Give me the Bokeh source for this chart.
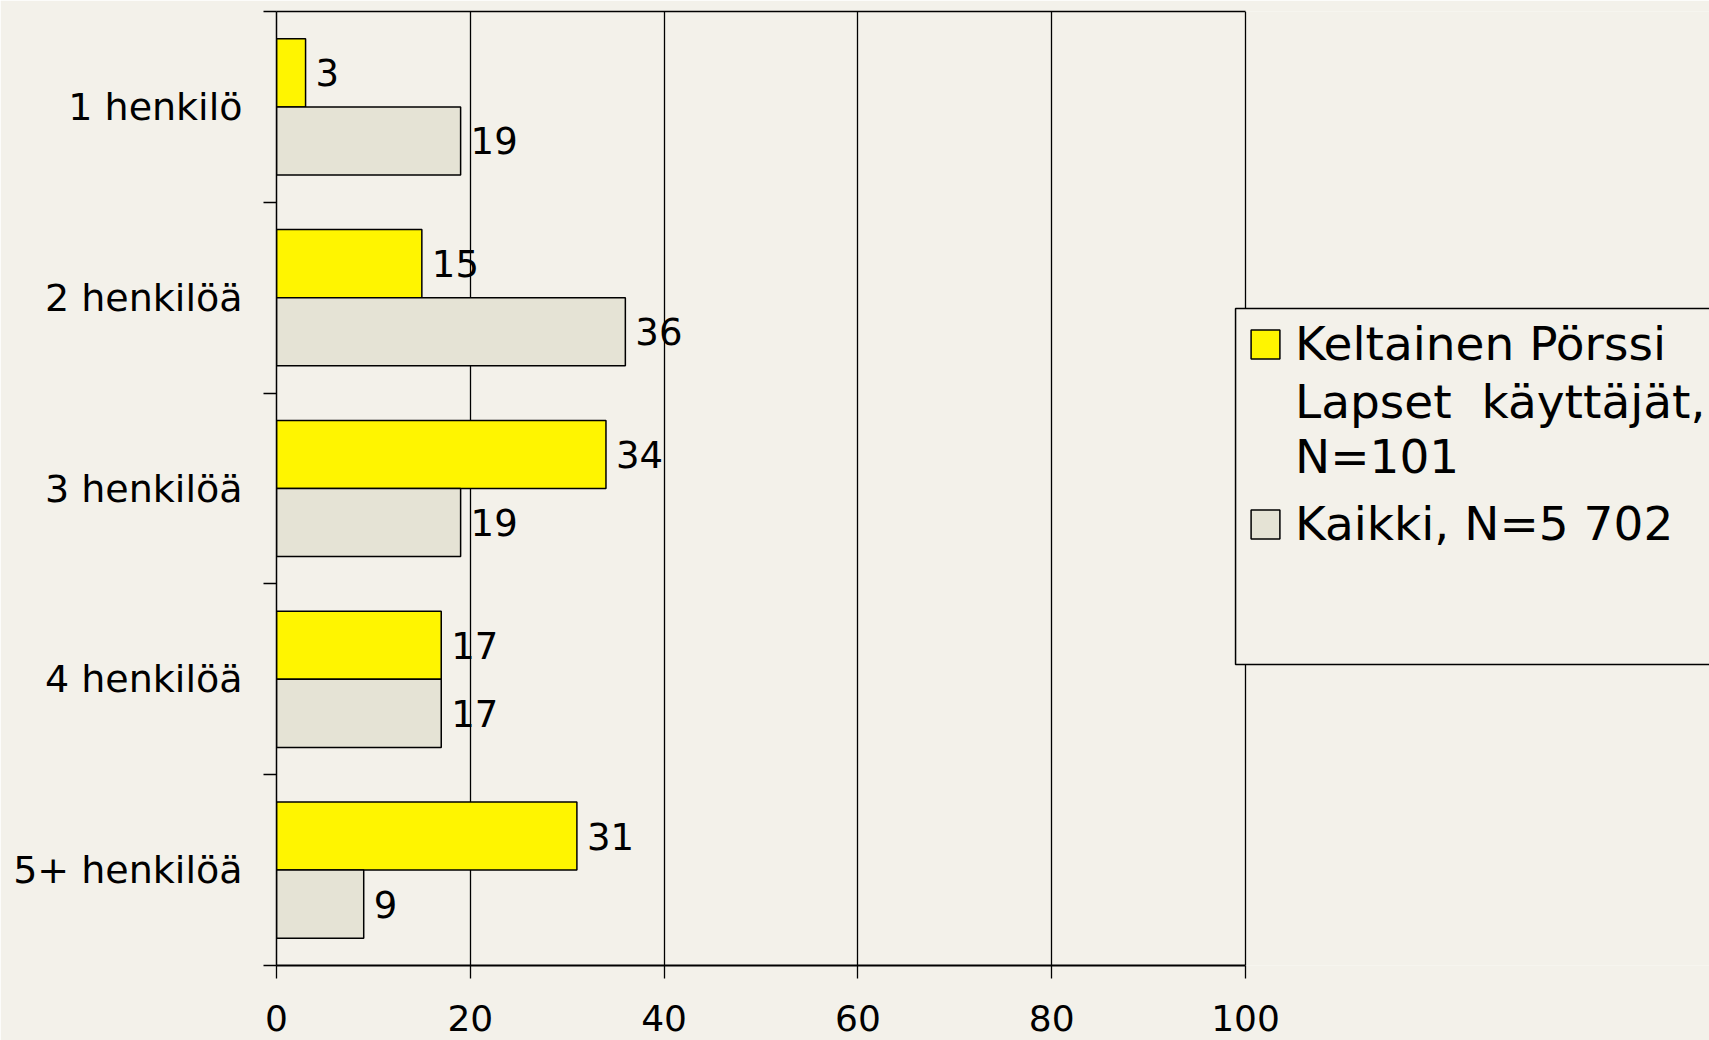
from bokeh.plotting import figure
from bokeh.models import (ColumnDataSource, FixedTicker, Range1d, LinearAxis,
                          Legend, LegendItem, BoxAnnotation)
from bokeh.embed import file_html
from bokeh.resources import INLINE
from bokeh.core.properties import value

categories = ["1 henkilö", "2 henkilöä", "3 henkilöä", "4 henkilöä", "5+ henkilöä"]
keltainen = [3, 15, 34, 17, 31]
kaikki = [19, 36, 19, 17, 9]
x_ticks = [0, 20, 40, 60, 80, 100]
series_1_lines = ["Keltainen Pörssi", "Lapset  käyttäjät,\nN=101"]
series_2_name = "Kaikki, N=5 702"

BG = "#F3F1EA"
YELLOW = "#FFF500"
GREY = "#E5E3D5"
FONT = "DejaVu Sans"

n = len(categories)
centers = [n - 0.5 - i for i in range(n)]
bar_h = 0.357
y_k = [c + bar_h / 2 for c in centers]
y_a = [c - bar_h / 2 for c in centers]

W, H = 1709, 1040
p = figure(width=W, height=H, output_backend="svg", toolbar_location=None,
           x_range=Range1d(0, 147.88), y_range=Range1d(0, n),
           min_border_left=276, min_border_right=0, min_border_top=11,
           min_border_bottom=75,
           background_fill_color=BG, border_fill_color=BG,
           outline_line_color=None)

src_k = ColumnDataSource(dict(y=y_k, v=keltainen, lbl=[str(v) for v in keltainen]))
src_a = ColumnDataSource(dict(y=y_a, v=kaikki, lbl=[str(v) for v in kaikki]))

r_k = p.hbar(y="y", right="v", left=0, height=bar_h, source=src_k,
             fill_color=YELLOW, line_color="black", line_width=1.5)
r_a = p.hbar(y="y", right="v", left=0, height=bar_h, source=src_a,
             fill_color=GREY, line_color="black", line_width=1.5)
# empty, invisible renderer for the legend's continuation lines
r_blank = p.hbar(y=[], right=[], left=0, height=bar_h,
                 fill_alpha=0, line_alpha=0)

for src in (src_k, src_a):
    p.text(x="v", y="y", text="lbl", source=src, x_offset=10,
           text_baseline="middle", text_align="left",
           text_font=value(FONT), text_font_size="37px", text_color="black")

# x axis
xa = p.xaxis[0]
xa.ticker = FixedTicker(ticks=x_ticks)
xa.bounds = (0, 100)
xa.major_tick_out = 13
xa.major_tick_in = 0
xa.minor_tick_out = 0
xa.minor_tick_in = 0
xa.axis_line_width = 2
xa.major_tick_line_width = 1.3
xa.major_label_text_font = FONT
xa.major_label_text_font_size = "36px"
xa.major_label_text_color = "black"
xa.major_label_standoff = 26

# y axis
ya = p.yaxis[0]
ya.ticker = FixedTicker(ticks=centers, minor_ticks=list(range(n + 1)))
ya.major_label_overrides = {c: cat for c, cat in zip(centers, categories)}
ya.major_tick_out = 0
ya.major_tick_in = 0
ya.minor_tick_out = 13
ya.minor_tick_in = 0
ya.minor_tick_line_color = "black"
ya.minor_tick_line_width = 1.5
ya.axis_line_width = 1.5
ya.major_label_text_font = FONT
ya.major_label_text_font_size = "38px"
ya.major_label_text_color = "black"
ya.major_label_standoff = 21

# top border
top = LinearAxis(bounds=(0, 100), ticker=FixedTicker(ticks=[]),
                 major_tick_out=0, major_tick_in=0, minor_tick_out=0, minor_tick_in=0,
                 major_label_text_font_size="0px", major_label_standoff=0,
                 axis_line_color="black", axis_line_width=1.5)
p.add_layout(top, "above")

p.xgrid.ticker = FixedTicker(ticks=x_ticks[1:])
p.xgrid.grid_line_color = "black"
p.xgrid.grid_line_width = 1.3
p.ygrid.grid_line_color = None

# legend frame
box = BoxAnnotation(left=98.97, right=200, top=3.443, bottom=1.578,
                    fill_color=BG, fill_alpha=1, line_color="black",
                    line_alpha=1, line_width=1.5)
p.add_layout(box)

legend_style = dict(padding=0, margin=0, border_line_color=None,
                    background_fill_alpha=0, label_text_font=FONT,
                    label_text_font_size="47px", label_text_color="black",
                    label_text_line_height=1.16, label_standoff=12,
                    glyph_width=36, glyph_height=36)

legend_a = Legend(items=[LegendItem(label=series_1_lines[0], renderers=[r_k]),
                         LegendItem(label=series_1_lines[1], renderers=[r_blank])],
                  location=(971, 481), spacing=3, **legend_style)
legend_b = Legend(items=[LegendItem(label=series_2_name, renderers=[r_a])],
                  location=(971, 414), spacing=0, **legend_style)
p.add_layout(legend_a)
p.add_layout(legend_b)

open("out.html", "w").write(file_html(p, INLINE))
